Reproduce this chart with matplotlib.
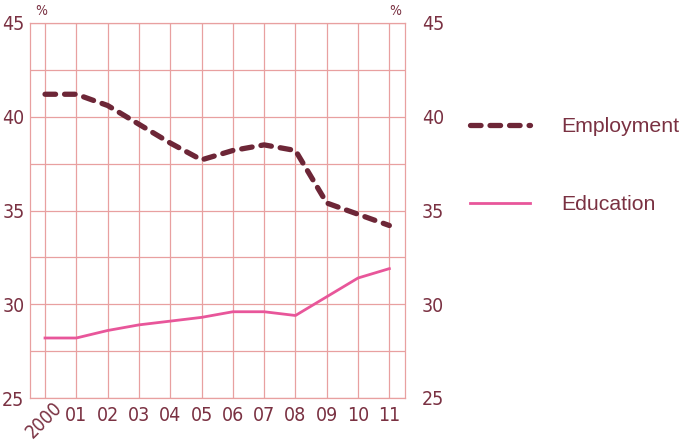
import numpy as np
import matplotlib
matplotlib.use('Agg')
from matplotlib import pyplot as plt
from matplotlib.lines import Line2D
from matplotlib import font_manager as fm

# data
years = ['2000', '01', '02', '03', '04', '05', '06', '07', '08', '09', '10', '11']
employment = [41.2, 41.2, 40.6, 39.6, 38.6, 37.7, 38.2, 38.5, 38.2, 35.4, 34.8, 34.2]
education = [28.2, 28.2, 28.6, 28.9, 29.1, 29.3, 29.6, 29.6, 29.4, 30.4, 31.4, 31.9]
yticks = [25, 30, 35, 40, 45]

maroon = '#6d2637'
pink = '#e8569a'
gridc = '#e8a0a0'
txtc = '#7a3142'

tickfont = fm.FontProperties(family='DejaVu Sans', stretch='condensed', size=14)

fig = plt.figure(figsize=(6.79, 4.42), dpi=100)
ax = fig.add_axes([30/679, 44/442, 375/679, 375/442])

x = np.arange(len(years))
ax.plot(x, employment, color=maroon, lw=3.8, dashes=(2.0, 1.7),
        dash_capstyle='round', solid_capstyle='round', zorder=3)
ax.plot(x, education, color=pink, lw=2.0, zorder=3)

ax.set_xlim(-0.48, 11.5)
ax.set_ylim(25, 45)
ax.set_xticks(x)
ax.set_yticks(yticks)
ax.set_yticks(np.arange(25, 45.1, 2.5), minor=True)
ax.grid(True, which='both', color=gridc, lw=0.9)
ax.set_axisbelow(True)
for s in ax.spines.values():
    s.set_color(gridc)
    s.set_linewidth(0.9)

ax.tick_params(which='both', length=0)
ax.tick_params(axis='y', labelcolor=txtc, pad=4)
ax.tick_params(axis='x', labelcolor=txtc, pad=6)
ax.set_xticklabels([''] + years[1:])
for lab in ax.get_yticklabels() + ax.get_xticklabels():
    lab.set_fontproperties(tickfont)

# first year label is tilted
ax.annotate(years[0], xy=(x[0], 0), xycoords=('data', 'axes fraction'),
            xytext=(10, -5), textcoords='offset points', rotation=45,
            rotation_mode='anchor', ha='right', va='center',
            color=txtc, fontproperties=tickfont, fontsize=13.5)

# right-hand labels
ax2 = ax.twinx()
ax2.set_ylim(25, 45)
ax2.set_yticks(yticks)
ax2.tick_params(length=0, labelcolor=txtc, pad=12)
for lab in ax2.get_yticklabels():
    lab.set_fontproperties(tickfont)
for s in ax2.spines.values():
    s.set_visible(False)

pct = fm.FontProperties(family='DejaVu Sans', stretch='condensed', size=10)
fig.text(41/679, 1 - 11/442, '%', color=txtc, fontproperties=pct, ha='center', va='center')
fig.text(395/679, 1 - 11/442, '%', color=txtc, fontproperties=pct, ha='center', va='center')

# legend
handles = [Line2D([], [], color=maroon, lw=3.8, dashes=(2.0, 1.7), dash_capstyle='round'),
           Line2D([], [], color=pink, lw=2.0)]
fig.legend(handles, ['Employment', 'Education'], loc='upper left',
           bbox_to_anchor=(470/679, 1 - 117/442), frameon=False,
           borderpad=0, borderaxespad=0,
           handlelength=2.8, handletextpad=1.5, labelspacing=2.8,
           prop={'family': 'Liberation Sans', 'size': 15.3}, labelcolor=txtc)

fig.savefig('out.png', dpi=100)
